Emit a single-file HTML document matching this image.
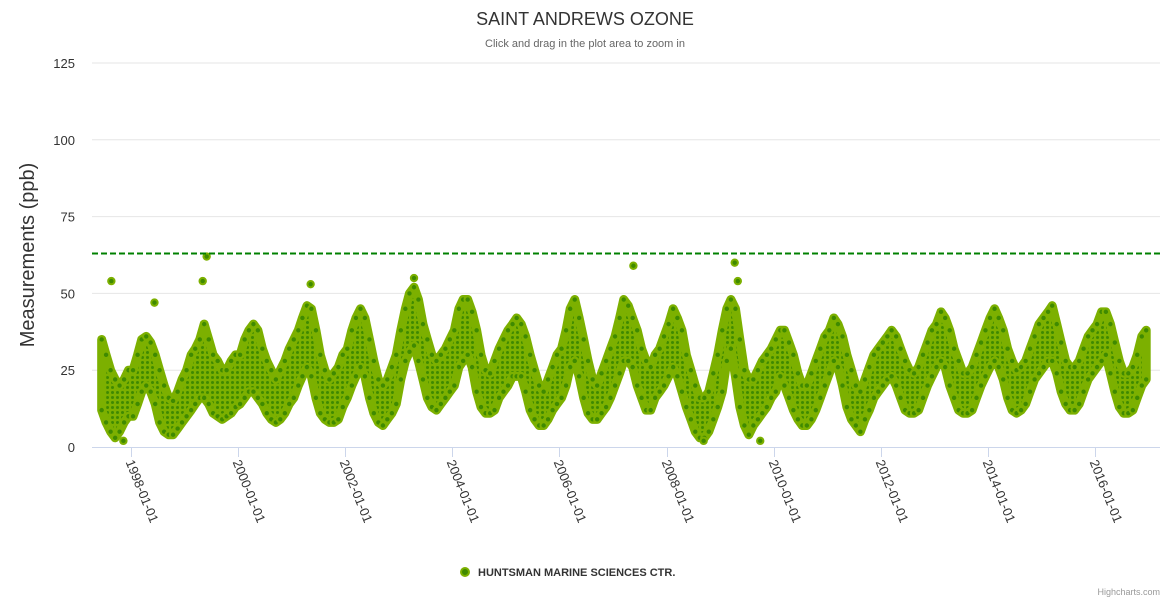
<!DOCTYPE html>
<html><head><meta charset="utf-8"><style>
body{margin:0;background:#fff;font-family:"Liberation Sans",sans-serif}
svg text{font-family:"Liberation Sans",sans-serif}
</style></head><body>
<svg id="chart" width="1170" height="600" xmlns="http://www.w3.org/2000/svg">
<defs><pattern id="dots" width="5" height="5" patternUnits="userSpaceOnUse"><rect width="5" height="5" fill="#7cb000"/><circle cx="2.5" cy="2.5" r="1.5" fill="#3f8a00"/></pattern></defs>
<text x="585" y="25" text-anchor="middle" font-size="18" fill="#333">SAINT ANDREWS OZONE</text>
<text x="585" y="47" text-anchor="middle" font-size="11" fill="#666">Click and drag in the plot area to zoom in</text>
<text transform="translate(34,255) rotate(-90)" text-anchor="middle" font-size="20" fill="#333">Measurements (ppb)</text>
<g id="grid"></g><g id="series"></g><g id="xaxis"></g>
<g><circle cx="465" cy="572" r="4" fill="#3f8a00" stroke="#7cb000" stroke-width="2"/><text x="478" y="576" font-size="11" font-weight="bold" fill="#333">HUNTSMAN MARINE SCIENCES CTR.</text></g>
<text x="1160" y="595" text-anchor="end" font-size="9" fill="#999">Highcharts.com</text>
</svg>
<script>
const yTicks=[0,25,50,75,100,125];
const xTickYears=[1998,2000,2002,2004,2006,2008,2010,2012,2014,2016];
const threshold=63;
const startYear=1997, startMonth=5;
const lows=[12,8,5,3,5,8,10,
10,14,18,20,18,14,8,5,4,4,6,8,
10,12,14,16,16,14,11,10,9,10,11,13,
14,16,18,18,16,14,11,9,8,9,11,14,
16,20,23,26,23,16,11,9,8,8,9,13,
16,20,23,26,23,16,11,8,7,9,11,14,
22,28,31,33,28,22,16,13,12,14,16,18,
20,26,28,30,26,18,13,11,11,12,16,18,
20,23,23,23,18,12,9,7,7,9,12,14,
16,20,26,28,23,16,11,9,9,11,13,16,
20,24,28,28,26,20,16,12,12,16,18,20,
23,26,23,18,13,9,5,3,3,5,9,13,
18,28,32,23,13,7,4,7,9,11,13,16,
18,23,20,16,12,9,7,7,9,12,16,20,
24,28,26,20,13,9,7,5,9,12,16,18,
20,22,23,20,16,12,11,11,12,16,20,23,
26,28,26,20,16,12,11,11,12,16,20,23,
26,28,26,22,16,12,11,12,14,18,22,24,
26,28,28,24,18,14,12,12,14,18,22,24,
26,28,30,24,18,13,11,11,12,16,20,22];
const highs=[35,30,25,22,20,22,25,
25,30,35,36,34,30,25,20,16,15,18,22,
25,30,32,35,40,35,30,28,25,25,28,30,
30,35,38,40,38,32,28,25,22,25,28,32,
35,38,42,46,45,38,30,25,22,24,26,30,
32,38,42,45,42,35,28,22,20,22,26,30,
38,45,50,52,48,40,35,30,28,30,32,35,
38,45,48,48,44,38,30,25,24,28,32,35,
38,40,42,40,36,30,25,20,18,22,26,30,
32,38,45,48,42,35,28,22,20,24,28,32,
36,42,48,46,42,38,32,28,26,30,32,36,
40,45,42,38,30,25,20,16,16,18,24,30,
38,45,48,45,35,25,22,22,25,28,30,32,
35,38,38,34,30,24,20,20,24,28,32,36,
38,42,40,36,30,25,20,18,22,26,30,32,
34,36,38,36,32,28,25,24,26,30,34,38,
40,44,42,38,32,28,24,24,26,30,34,38,
42,45,42,38,32,28,25,26,28,32,36,40,
42,44,46,40,34,28,26,26,28,32,36,38,
40,44,44,40,34,28,24,24,26,30,36,38];
const outDates=["1997-08-20","1998-06-10","1999-05-05","1999-06-01","2001-05-10","2003-04-15","2007-05-20","2009-04-10","2009-05-01","2008-09-10","2009-10-01","1997-11-10"];
const outVals=[54,47,54,62,53,55,59,60,54,2,2,2];
const NS="http://www.w3.org/2000/svg";
const base=Date.UTC(1998,0,1);
function xs(t){return 131+(t-base)/86400000*0.14664;}
function ys(v){return 447-v*384/125;}
function mk(tag,attrs,parent){const e=document.createElementNS(NS,tag);for(const k in attrs)e.setAttribute(k,attrs[k]);parent.appendChild(e);return e;}
const grid=document.getElementById('grid'),ser=document.getElementById('series'),xa=document.getElementById('xaxis');
yTicks.forEach(v=>{
 if(v>0){const l=mk('line',{x1:92,x2:1160,y1:ys(v),y2:ys(v),stroke:'#e6e6e6'},grid);
 
 }
 const t=mk('text',{x:75,y:ys(v)+5,'text-anchor':'end','font-size':'13',fill:'#333'},grid);t.textContent=v;
 
 
});
const al=mk('line',{x1:92,x2:1160,y1:447.5,y2:447.5,stroke:'#ccd6eb'},xa);


xTickYears.forEach(yr=>{
 const x=Math.round(xs(Date.UTC(yr,0,1)))+0.5;
 mk('line',{x1:x,x2:x,y1:447,y2:457,stroke:'#ccd6eb'},xa);
 const t=mk('text',{transform:`translate(${x-6},462) rotate(68)`,'font-size':'13',fill:'#333'},xa);
 t.textContent=yr+'-01-01';
 
 
});
const mids=lows.map((_,i)=>xs(Date.UTC(startYear,startMonth+i,15)));
let up=mids.map((x,i)=>x+','+ys(highs[i])).join(' ');
let dn=mids.map((x,i)=>x+','+ys(lows[i])).reverse().join(' ');
const band=mk('polygon',{points:up+' '+dn,fill:'url(#dots)',stroke:'#7cb000','stroke-width':9,'stroke-linejoin':'round'},ser);


function pt(x,v){const c=mk('circle',{cx:x,cy:ys(v),r:3.2,fill:'#3f8a00',stroke:'#7cb000','stroke-width':2},ser);
 
 }
mids.forEach((x,i)=>{pt(x,highs[i]);pt(x,lows[i]);});
outDates.forEach((d,i)=>{const p=d.split('-');pt(xs(Date.UTC(+p[0],p[1]-1,+p[2])),outVals[i]);});
const th=mk('line',{x1:92,x2:1160,y1:ys(threshold),y2:ys(threshold),stroke:'#008000','stroke-width':2,'stroke-dasharray':'6,3'},ser);


</script>
</body></html>
